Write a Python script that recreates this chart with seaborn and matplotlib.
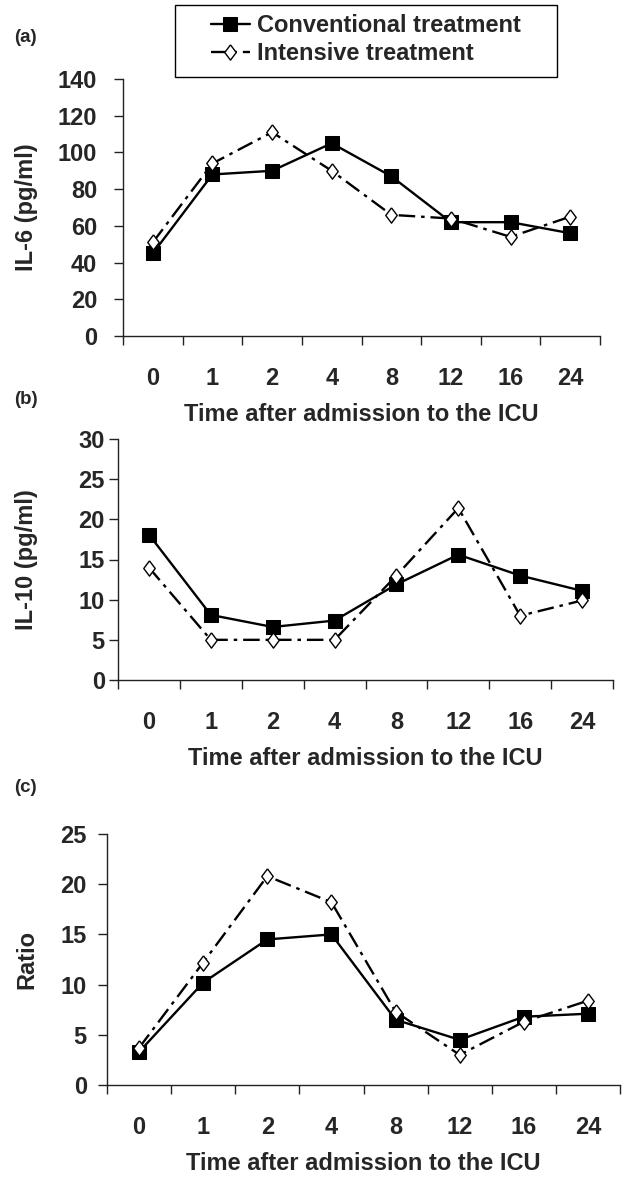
import numpy as np
import pandas as pd
import seaborn as sns
import matplotlib
matplotlib.use('Agg')
import matplotlib.pyplot as plt
from matplotlib.patches import Rectangle

# データ
times = ['0', '1', '2', '4', '8', '12', '16', '24']
il6_conv = [45, 88, 90, 105, 87, 62, 62, 56]
il6_int = [51, 94, 111, 90, 66, 64, 54, 65]
il10_conv = [18.1, 8.1, 6.6, 7.4, 11.9, 15.6, 13.0, 11.1]
il10_int = [14.0, 5.0, 5.0, 5.0, 13.0, 21.4, 8.0, 9.9]
ratio_conv = [3.3, 10.2, 14.5, 15.0, 6.5, 4.5, 6.8, 7.1]
ratio_int = [3.7, 12.2, 20.8, 18.2, 7.3, 3.0, 6.3, 8.4]

conv_label = 'Conventional treatment'
int_label = 'Intensive treatment'

sns.set_style('ticks')
plt.rcParams['font.family'] = ['Liberation Sans', 'DejaVu Sans']
plt.rcParams['font.weight'] = 'bold'

FS = 17
W, H = 637, 1184
fig = plt.figure(figsize=(W / 100, H / 100), dpi=100)

# 縦長のひし形マーカー
diamond = [(0, 1), (0.75, 0), (0, -1), (-0.75, 0), (0, 1)]


def add_axes_px(left, top, right, bottom):
    return fig.add_axes([left / W, 1 - bottom / H, (right - left) / W, (bottom - top) / H])


panels = [
    # (axes box px, conv, int, ymax, yticks, ylabel, tag, tag_y, ytick pad)
    ((123, 79, 600, 336), il6_conv, il6_int, 140, np.arange(0, 141, 20), 'IL-6 (pg/ml)', '(a)', 37, 12),
    ((118, 439, 613, 680), il10_conv, il10_int, 30, np.arange(0, 31, 5), 'IL-10 (pg/ml)', '(b)', 400, 3),
    ((107, 834, 620, 1085), ratio_conv, ratio_int, 25, np.arange(0, 26, 5), 'Ratio', '(c)', 787, 8),
]

pos = np.arange(len(times))
axes = []
for box, conv, inten, ymax, yticks, ylabel, tag, tag_y, ypad in panels:
    ax = add_axes_px(*box)
    df_c = pd.DataFrame({'pos': pos, 'value': conv})
    df_i = pd.DataFrame({'pos': pos, 'value': inten})
    sns.lineplot(data=df_c, x='pos', y='value', ax=ax, color='black', lw=1.7,
                 marker='s', markersize=10, markerfacecolor='black', markeredgecolor='black',
                 label=conv_label, legend=False)
    sns.lineplot(data=df_i, x='pos', y='value', ax=ax, color='black', lw=1.7,
                 linestyle=(0, (7, 2.5, 1.5, 2.5)),
                 marker=diamond, markersize=11, markerfacecolor='white', markeredgecolor='black',
                 markeredgewidth=1.0, label=int_label, legend=False)

    ax.set_xlim(-0.5, len(times) - 0.5)
    ax.set_ylim(0, ymax)
    ax.set_yticks(yticks)
    ax.set_yticklabels([str(v) for v in yticks])
    ax.set_xticks(pos)
    ax.set_xticklabels(times)
    ax.set_xticks(np.arange(-0.5, len(times), 1), minor=True)
    ax.tick_params(axis='x', which='major', length=0, pad=22, labelsize=FS)
    ax.tick_params(axis='x', which='minor', length=6.5, width=1.0, direction='out', color='#222222')
    ax.tick_params(axis='y', length=6.5, width=1.0, pad=ypad, labelsize=FS, color='#222222')
    for lab in ax.get_xticklabels() + ax.get_yticklabels():
        lab.set_fontweight('bold')

    ax.set_xlabel('Time after admission to the ICU', fontsize=FS, fontweight='bold', labelpad=10)
    ax.set_ylabel(ylabel, fontsize=FS, fontweight='bold')
    ax.yaxis.set_label_coords((38 - box[0]) / (box[2] - box[0]), 0.5)

    sns.despine(ax=ax)
    for s in ['left', 'bottom']:
        ax.spines[s].set_linewidth(1.0)
        ax.spines[s].set_color('#222222')

    fig.text(14 / W, 1 - tag_y / H, tag, fontsize=13.5, fontweight='bold', va='center', ha='left')
    axes.append(ax)

# 凡例 (枠は別に描く)
fig.add_artist(Rectangle((175 / W, 1 - 77 / H), 382 / W, 72 / H, transform=fig.transFigure,
                         fill=False, edgecolor='black', lw=1.0))
handles, labels = axes[0].get_legend_handles_labels()
leg = fig.legend(handles, labels, loc='upper left', bbox_to_anchor=(211 / W, 1 - 14 / H),
                 frameon=False, fontsize=FS, handlelength=1.65, handletextpad=0.3,
                 labelspacing=0.22, borderpad=0, borderaxespad=0)
for t in leg.get_texts():
    t.set_fontweight('bold')

plt.savefig('out.png', dpi=100)
plt.close()
